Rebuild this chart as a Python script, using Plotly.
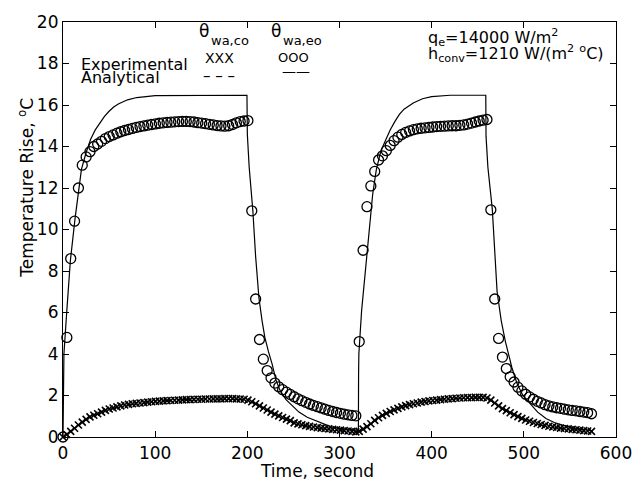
import numpy as np
import plotly.graph_objects as go

# ---- sampling instants of the measurements (two heating cycles) ----
t_cycle1 = np.round(np.arange(77) * 4.18, 2)          # 0 ... 317.7 s
t_cycle2 = np.round(321.4 + np.arange(61) * 4.2, 2)   # 321.4 ... 573.4 s

# ---- experimental theta_wa,eo (circles) ----
eo_cycle1 = [
    0.0, 4.8, 8.6, 10.4, 12.0, 13.1, 13.5, 13.75,
    14.0, 14.12, 14.25, 14.38, 14.48, 14.56, 14.64, 14.71, 14.77, 14.82,
    14.87, 14.92, 14.96, 14.99, 15.03, 15.06, 15.09, 15.12, 15.14, 15.16,
    15.17, 15.19, 15.2, 15.21, 15.21, 15.2, 15.18, 15.15, 15.13, 15.1,
    15.07, 15.04, 15.01, 14.99, 14.98, 15.0, 15.06, 15.14, 15.2, 15.23,
    15.25,
    10.9, 6.65, 4.7, 3.75, 3.2, 2.85, 2.6, 2.42, 2.28, 2.16, 2.05, 1.94,
    1.84, 1.75, 1.67, 1.59, 1.52, 1.46, 1.4, 1.34, 1.28, 1.23, 1.18, 1.14,
    1.1, 1.07, 1.04, 1.02,
]
eo_cycle2 = [
    4.6, 9.0, 11.1, 12.1, 12.8, 13.35, 13.55, 13.8, 14.05, 14.28, 14.45,
    14.58, 14.68, 14.75, 14.81, 14.85, 14.88, 14.9, 14.92, 14.94, 14.96,
    14.97, 14.98, 14.99, 15.0, 15.0, 15.02, 15.04, 15.08, 15.13, 15.18,
    15.23, 15.27, 15.3,
    10.95, 6.65, 4.75, 3.85, 3.3, 2.9, 2.65, 2.4, 2.22, 2.06, 1.93, 1.82,
    1.72, 1.64, 1.56, 1.5, 1.45, 1.41, 1.38, 1.34, 1.31, 1.28, 1.26, 1.23,
    1.2, 1.17, 1.12,
]

# ---- experimental theta_wa,co (crosses) ----
co_cycle1 = [
    0.0, 0.12, 0.27, 0.42, 0.58, 0.72, 0.85, 0.97, 1.05, 1.12, 1.2, 1.28,
    1.35, 1.4, 1.45, 1.5, 1.54, 1.57, 1.6, 1.62, 1.64, 1.66, 1.68, 1.7,
    1.72, 1.73, 1.74, 1.75, 1.76, 1.77, 1.78, 1.79, 1.8, 1.8, 1.81, 1.82,
    1.82, 1.83, 1.83, 1.84, 1.84, 1.84, 1.85, 1.85, 1.85, 1.84, 1.83, 1.82,
    1.78, 1.7, 1.6, 1.5, 1.4, 1.3, 1.2, 1.1, 1.02, 0.94, 0.86, 0.79, 0.68,
    0.63, 0.59, 0.55, 0.51, 0.48, 0.45, 0.43, 0.41, 0.39, 0.37, 0.35, 0.33,
    0.31, 0.29, 0.27, 0.25,
]
co_cycle2 = [
    0.27, 0.38, 0.5, 0.64, 0.8, 0.93, 1.04, 1.14, 1.23, 1.31, 1.38, 1.45,
    1.51, 1.56, 1.6, 1.64, 1.68, 1.71, 1.74, 1.76, 1.78, 1.8, 1.82, 1.84,
    1.85, 1.87, 1.88, 1.89, 1.9, 1.9, 1.91, 1.91, 1.91, 1.88, 1.78, 1.64,
    1.5, 1.37, 1.27, 1.17, 1.08, 0.98, 0.9, 0.82, 0.76, 0.7, 0.65, 0.6,
    0.56, 0.52, 0.49, 0.46, 0.43, 0.41, 0.39, 0.37, 0.35, 0.33, 0.31, 0.29,
    0.27,
]

# ---- analytical theta_wa,eo (solid line) ----
ana_eo_t = [
    0, 0.3, 1, 4, 8, 13, 18, 20, 25, 30, 35, 40, 45, 50, 55, 60, 70, 80, 90,
    100, 199.6,
    200.0, 202, 206, 209, 212.6, 216, 219, 223, 227, 231, 236, 242, 248, 256,
    265, 273, 282, 291, 300, 310, 320.5,
    320.7, 321, 324, 328, 332, 336, 340, 345, 350, 355, 360, 365, 370, 380,
    390, 400, 420, 458.7,
    459.0, 461, 465.8, 471, 475.5, 480, 487, 492.4, 499, 506.5, 515, 524,
    533, 542, 556, 570, 575,
]
ana_eo_v = [
    0, 3.0, 4.0, 6.0, 8.5, 10.5, 12.2, 12.9, 13.7, 14.35, 14.8, 15.15, 15.45,
    15.7, 15.9, 16.05, 16.25, 16.36, 16.42, 16.45, 16.47,
    14.6, 13.0, 10.9, 8.7, 6.7, 5.6, 4.8, 4.1, 3.5, 2.75, 2.2, 1.8, 1.55, 1.2,
    0.95, 0.8, 0.62, 0.49, 0.42, 0.36, 0.32,
    3.0, 4.0, 6.1, 8.0, 10.0, 11.7, 12.9, 13.8, 14.3, 14.8, 15.2, 15.55, 15.8,
    16.1, 16.3, 16.4, 16.47, 16.47,
    14.5, 13.0, 10.97, 7.0, 5.6, 4.6, 3.35, 2.6, 2.0, 1.6, 1.2, 0.89, 0.7,
    0.57, 0.43, 0.33, 0.3,
]

# ---- analytical theta_wa,co (dashed line) ----
ana_co_t = [0, 10, 20, 30, 45, 60, 80, 100, 130, 160, 200, 215, 230, 245,
            260, 280, 300, 320, 335, 350, 370, 390, 420, 460, 475, 490, 505,
            520, 540, 560, 575]
ana_co_v = [0, 0.35, 0.7, 0.98, 1.27, 1.45, 1.62, 1.72, 1.8, 1.84, 1.8, 1.45,
            1.08, 0.78, 0.57, 0.41, 0.33, 0.26, 0.66, 1.13, 1.53, 1.73, 1.85,
            1.9, 1.42, 1.04, 0.75, 0.56, 0.42, 0.33, 0.27]

FONT = "DejaVu Sans"
BLACK = "black"

fig = go.Figure()

fig.add_trace(go.Scatter(x=ana_co_t, y=ana_co_v, mode="lines",
                         line=dict(color=BLACK, width=1.1, dash="dash"),
                         showlegend=False))
fig.add_trace(go.Scatter(x=ana_eo_t, y=ana_eo_v, mode="lines",
                         line=dict(color=BLACK, width=1.2),
                         showlegend=False))
fig.add_trace(go.Scatter(x=np.concatenate([t_cycle1, t_cycle2]),
                         y=co_cycle1 + co_cycle2, mode="markers",
                         marker=dict(symbol="x-thin-open", size=7,
                                     color=BLACK,
                                     line=dict(color=BLACK, width=1.6)),
                         cliponaxis=False, showlegend=False))
fig.add_trace(go.Scatter(x=np.concatenate([t_cycle1, t_cycle2]),
                         y=eo_cycle1 + eo_cycle2, mode="markers",
                         marker=dict(symbol="circle-open", size=10,
                                     color=BLACK,
                                     line=dict(color=BLACK, width=1.3)),
                         cliponaxis=False, showlegend=False))

# plot area in pixels: x 63..628, y 17..437
L, R, T, B = 63, 628, 17, 437


def px(x):
    return (x - L) / (R - L)


def py(y):
    return (B - y) / (B - T)


def label(text, x, y, size, xanchor="left", yanchor="middle", angle=0):
    fig.add_annotation(text=text, x=px(x), y=py(y), xref="paper",
                       yref="paper", xanchor=xanchor, yanchor=yanchor,
                       showarrow=False, textangle=angle, borderpad=0,
                       font=dict(family=FONT, size=size, color=BLACK))


# legend block
label("θ", 207.5, 26, 17, xanchor="center")
label("wa,co", 213, 36, 13)
label("θ", 281, 26, 17, xanchor="center")
label("wa,eo", 287, 36, 13)
label("Experimental", 80, 60, 16)
label("XXX", 222.5, 53, 14, xanchor="center")
label("OOO", 298, 53, 13, xanchor="center")
label("Analytical", 80, 73, 16)
label("– – –", 222.5, 72, 15, xanchor="center")
label("——", 301, 67, 14, xanchor="center")

# operating conditions
label("q<sub>e</sub>=14000 W/m<sup>2</sup>", 435, 33, 16)
label("h<sub>conv</sub>=1210 W/(m<sup>2</sup> <sup>o</sup>C)", 435, 49, 16)

# axis titles
label("Time, second", 323, 471, 17, xanchor="center")
label("Temperature Rise, <sup>o</sup>C", 25, 185, 17, xanchor="center",
      angle=-90)

axis_common = dict(showline=True, linecolor=BLACK, linewidth=1.2,
                   mirror="ticks", ticks="inside", ticklen=6,
                   tickcolor=BLACK, tickwidth=1.1, showgrid=False,
                   zeroline=False, ticklabeloverflow="allow",
                   tickfont=dict(family=FONT, size=17, color=BLACK))

fig.update_layout(
    width=644, height=482,
    margin=dict(l=L, r=644 - R, t=T, b=482 - B),
    paper_bgcolor="white", plot_bgcolor="white",
    xaxis=dict(range=[0, 600], tick0=0, dtick=100, ticklabelstandoff=0,
               **axis_common),
    yaxis=dict(range=[0, 20], tick0=0, dtick=2, **axis_common),
)

fig.write_html("out.html")
